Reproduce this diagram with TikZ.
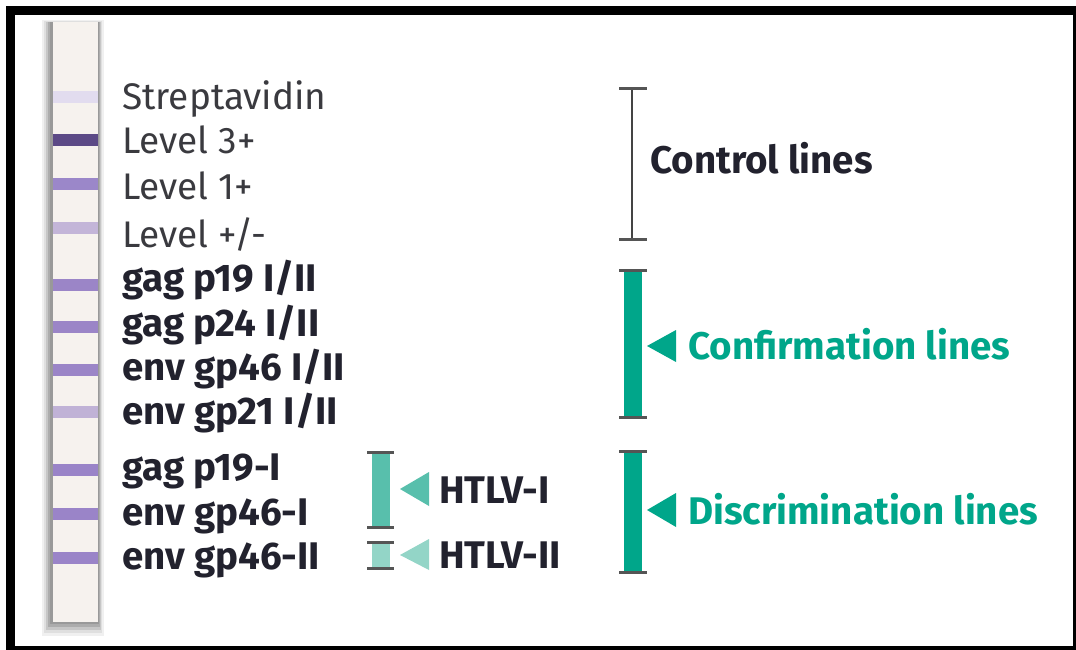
\documentclass[tikz,border=0pt]{standalone}
\usepackage{fontspec}
\setmainfont{Fira Sans}
\begin{document}
\begin{tikzpicture}[x=1bp,y=-1bp,
  lbl/.style={anchor=base west, inner sep=0pt, font=\fontsize{37bp}{42bp}\selectfont},
  lbln/.style={lbl, text=txtgray},
  lblb/.style={lbl, text=txtdark, font=\fontsize{38.5bp}{42bp}\selectfont\bfseries},
  lblt/.style={lbl, text=teal1, font=\fontsize{38.5bp}{42bp}\selectfont\bfseries},
  bracketcap/.style={draw=capgray, line width=3bp}
]
\definecolor{txtgray}{HTML}{3A3A3F}
\definecolor{txtdark}{HTML}{22222E}
\definecolor{teal1}{HTML}{00A68A}
\definecolor{tealI}{HTML}{58BFAC}
\definecolor{tealII}{HTML}{93D5C7}
\definecolor{capgray}{HTML}{555555}
\definecolor{stripbg}{HTML}{F6F2EE}
\useasboundingbox (0,0) rectangle (1076,650);
\fill[white] (0,0) rectangle (1076,650);
% frame
\draw[black, line width=9bp] (10.5,10.5) rectangle (1077,650);
% strip shadow
\fill[gray!12] (42,20) rectangle (104,636);
\fill[gray!25] (44,21) rectangle (102,633);
\fill[gray!45] (46,22) rectangle (101,630);
\fill[gray!65] (48,22) rectangle (100,627);
\fill[gray!80] (50,22) rectangle (99,624);
\fill[stripbg] (53,22) rectangle (98,622);
% bands
\foreach \y/\c in {97/E2DCEF,140/5C4A86,184/9B87C9,228/C3B5D8,285/9B85C7,327/9B85C7,370/9B85C7,412/C0B2D6,470/9A84C8,514/9A84C8,558/9A84C8}{
  \definecolor{bc}{HTML}{\c}
  \fill[bc] (53,\y-6) rectangle (98,\y+6);
}
% left labels
\node[lbln] (s)  at (122,110) {Streptavidin};
\node[lbln] (l3) at (122,154) {Level 3+};
\node[lbln] (l1) at (122,200) {Level 1+};
\node[lbln] (lpm) at (122,247) {Level +/-};
\node[lblb] (g19) at (122,291) {gag p19 I/II};
\node[lblb] (g24) at (122,336) {gag p24 I/II};
\node[lblb] (e46) at (122,380) {env gp46 I/II};
\node[lblb] (e21) at (122,424) {env gp21 I/II};
\node[lblb] (g19i) at (122,480) {gag p19-I};
\node[lblb] (e46i) at (122,525) {env gp46-I};
\node[lblb] (e46ii) at (122,569) {env gp46-II};
% control bracket
\draw[capgray!80!black, line width=1.5bp] (632,89) -- (632,239);
\draw[bracketcap] (619,89) -- (647,89);
\draw[bracketcap] (619,239) -- (647,239);
\node[lblb] (ctl) at (650,174) {Control lines};
% confirmation bracket
\fill[teal1] (624,270) rectangle (642,417);
\draw[bracketcap] (619,270) -- (647,270);
\draw[bracketcap] (619,417) -- (647,417);
\fill[teal1] (647,346) -- (676,330) -- (676,362) -- cycle;
\node[lblt] (conf) at (688,359) {Confirmation lines};
% discrimination bracket
\fill[teal1] (624,451) rectangle (642,572);
\draw[bracketcap] (619,451) -- (647,451);
\draw[bracketcap] (619,572) -- (647,572);
\fill[teal1] (647,510) -- (676,493) -- (676,527) -- cycle;
\node[lblt] (disc) at (688,524) {Discrimination lines};
% HTLV-I
\fill[tealI] (372,452) rectangle (390,527);
\draw[bracketcap] (367,452) -- (394,452);
\draw[bracketcap] (367,527) -- (394,527);
\fill[tealI] (400,489) -- (429,472) -- (429,506) -- cycle;
\node[lblb] (h1) at (439,503) {HTLV-I};
% HTLV-II
\fill[tealII] (372,542) rectangle (390,568);
\draw[bracketcap] (367,542) -- (394,542);
\draw[bracketcap] (367,568) -- (394,568);
\fill[tealII] (400,555) -- (429,539) -- (429,570) -- cycle;
\node[lblb] (h2) at (439,568) {HTLV-II};
\end{tikzpicture}
\end{document}
